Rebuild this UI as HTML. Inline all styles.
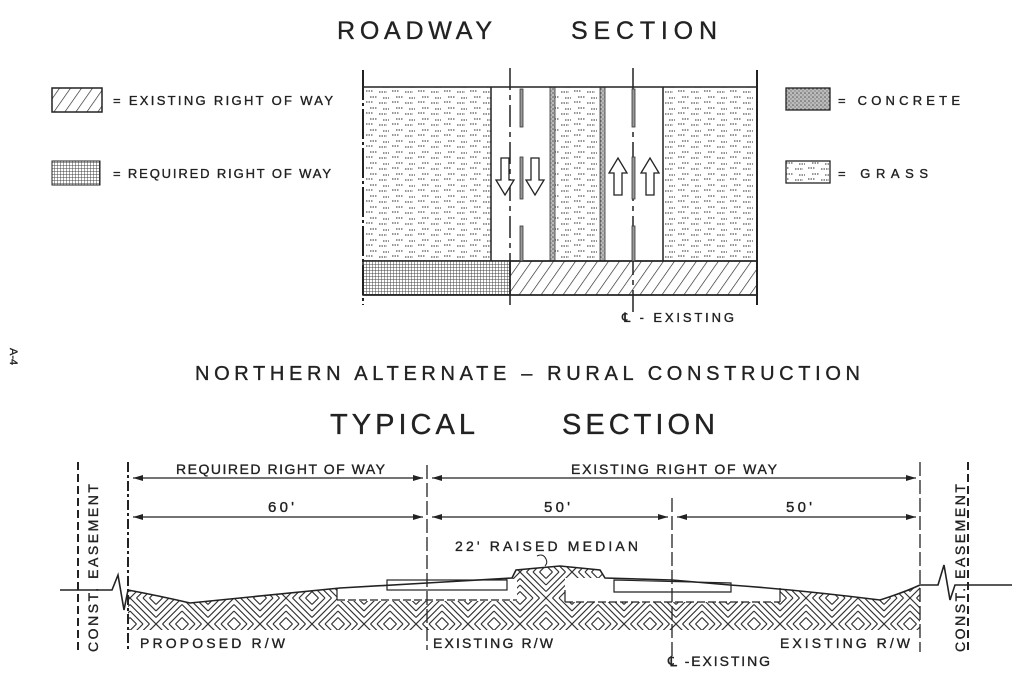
<!DOCTYPE html>
<html><head><meta charset="utf-8"><style>
html,body{margin:0;padding:0;background:#fff;}
svg{display:block;}
text{font-family:"Liberation Sans",sans-serif;fill:#222;stroke:#222;stroke-width:0.35;}
</style></head><body>
<svg width="1024" height="684" viewBox="0 0 1024 684" xmlns="http://www.w3.org/2000/svg">
<defs>
<pattern id="diag" width="9" height="9" patternUnits="userSpaceOnUse" patternTransform="rotate(35)">
<line x1="0" y1="0" x2="0" y2="9" stroke="#222" stroke-width="1.3"/></pattern>
<pattern id="grid" width="3" height="3" patternUnits="userSpaceOnUse">
<rect width="3" height="3" fill="#fff"/><path d="M0 0H3M0 0V3" stroke="#444" stroke-width="1"/></pattern>
<pattern id="dots" width="4" height="4" patternUnits="userSpaceOnUse">
<rect width="4" height="4" fill="#bbb"/><circle cx="1" cy="1" r="0.8" fill="#555"/><circle cx="3" cy="3" r="0.7" fill="#777"/></pattern>
<pattern id="grass" width="26" height="11" patternUnits="userSpaceOnUse">
<path d="M2 3h7M15 4h8M6 9h7M19 10h6" stroke="#555" stroke-width="1.2" stroke-dasharray="1.5 1"/></pattern>
<g id="bs"><path d="M0 0L26 26M0 6.5L19.5 26M0 13L13 26M0 19.5L6.5 26M6.5 0L26 19.5M13 0L26 13M19.5 0L26 6.5" stroke="#333" stroke-width="1.2" fill="none"/></g>
<pattern id="herr" width="52" height="52" patternUnits="userSpaceOnUse">
<use href="#bs"/>
<use href="#bs" transform="translate(52 0) scale(-1 1)"/>
<use href="#bs" transform="translate(0 52) scale(1 -1)"/>
<use href="#bs" transform="translate(26 26)"/>
</pattern>
</defs>

<!-- Titles -->
<text x="337" y="39" font-size="25" textLength="155" lengthAdjust="spacing">ROADWAY</text>
<text x="571" y="39" font-size="25" textLength="146" lengthAdjust="spacing">SECTION</text>
<text x="195" y="380" font-size="20" textLength="665" lengthAdjust="spacing">NORTHERN  ALTERNATE  –  RURAL  CONSTRUCTION</text>
<text x="330" y="434" font-size="29" textLength="145" lengthAdjust="spacing">TYPICAL</text>
<text x="562" y="434" font-size="29" textLength="153" lengthAdjust="spacing">SECTION</text>
<text x="10" y="348" font-size="11" transform="rotate(90 10 348)">A-4</text>

<!-- Legends -->
<rect x="52" y="88" width="50" height="24" fill="url(#diag)" stroke="#222" stroke-width="1.5"/>
<text x="113" y="105" font-size="13" textLength="220" lengthAdjust="spacing">= EXISTING RIGHT OF WAY</text>
<rect x="52" y="161" width="48" height="24" fill="url(#grid)" stroke="#222" stroke-width="1"/>
<text x="113" y="178" font-size="13" textLength="218" lengthAdjust="spacing">= REQUIRED RIGHT OF WAY</text>
<rect x="786" y="88" width="44" height="22" fill="url(#dots)" stroke="#222" stroke-width="1.3"/>
<text x="838" y="105" font-size="13" textLength="122" lengthAdjust="spacing">= CONCRETE</text>
<rect x="786" y="161" width="44" height="22" fill="url(#grass)" stroke="#222" stroke-width="1.3"/>
<text x="838" y="178" font-size="13" textLength="90" lengthAdjust="spacing">= GRASS</text>

<!-- Plan -->
<g stroke="#222" stroke-width="1.5">
<rect x="363" y="87" width="128" height="174" fill="url(#grass)" stroke="none"/>
<rect x="555" y="87" width="45" height="174" fill="url(#grass)" stroke="none"/>
<rect x="663" y="87" width="94" height="174" fill="url(#grass)" stroke="none"/>
<rect x="550" y="87" width="5" height="174" fill="url(#dots)" stroke="#333" stroke-width="0.8"/>
<rect x="600" y="87" width="5" height="174" fill="url(#dots)" stroke="#333" stroke-width="0.8"/>
<line x1="491" y1="87" x2="491" y2="261"/>
<line x1="663" y1="87" x2="663" y2="261"/>
<line x1="363" y1="87" x2="757" y2="87"/>
<line x1="363" y1="261" x2="757" y2="261"/>
<line x1="363" y1="295" x2="757" y2="295"/>
<rect x="363" y="261" width="147" height="34" fill="url(#grid)"/>
<rect x="510" y="261" width="247" height="34" fill="url(#diag)"/>
<line x1="363" y1="70" x2="363" y2="305" stroke-dasharray="30 3 3 3" stroke-width="2"/>
<line x1="757" y1="70" x2="757" y2="305" stroke-width="2"/>
<line x1="510" y1="68" x2="510" y2="305" stroke-dasharray="22 5 5 5"/>
<line x1="633" y1="68" x2="633" y2="312" stroke-dasharray="22 5 5 5"/>
</g>
<g fill="#999" stroke="#333" stroke-width="0.8">
<rect x="520" y="89" width="3" height="38"/><rect x="520" y="157" width="3" height="42"/><rect x="520" y="226" width="3" height="35"/>
<rect x="632" y="89" width="3" height="38"/><rect x="632" y="157" width="3" height="42"/><rect x="632" y="226" width="3" height="35"/>
</g>
<g fill="#fff" stroke="#222" stroke-width="1.3">
<path d="M501 158h8v22h5l-9 15-9-15h5z"/>
<path d="M531 158h8v22h5l-9 15-9-15h5z"/>
<path d="M614 195h8v-22h5l-9-15-9 15h5z"/>
<path d="M646 195h8v-22h5l-9-15-9 15h5z"/>
</g>
<text x="622" y="322" font-size="13" textLength="112" lengthAdjust="spacing">℄ - EXISTING</text>

<!-- Typical section -->
<path d="M128 590 Q160 596 190 603 Q260 596 340 588 L427 583 L512 578 L516 570 L560 566 L600 570 L605 578 L672 580 L730 585 Q800 590 880 600 Q905 592 920 585 L920 630 L128 630 Z" fill="url(#herr)" stroke="none"/>
<path d="M337 588 L513 579 L517 579 L517 601 L337 601 Z" fill="#fff"/>
<path d="M565 578 L605 578 L672 580 L730 585 L780 588 L780 602 L565 602 Z" fill="#fff"/>
<g fill="none" stroke="#222" stroke-width="1.2">
<path d="M337 588 V600"/><path d="M337 600 H517" stroke-dasharray="8 3"/>
<path d="M565 602 H780" stroke-dasharray="8 3"/><path d="M780 588 V602"/><path d="M565 590 V602"/>
<rect x="387" y="580" width="120" height="10" fill="#fff"/>
<path d="M614 580 L731 583 L731 592 L614 592 Z" fill="#fff"/>
</g>
<path d="M60 590 H112 L118 575 L124 610 L128 590 Q160 596 190 603 Q260 596 340 588 L427 583 L512 578 L516 570 L560 566 L600 570 L605 578 L672 580 L730 585 Q800 590 880 600 Q905 592 920 585 H938 L944 565 L950 600 L955 585 H1012" fill="none" stroke="#222" stroke-width="1.6"/>
<g stroke="#222" stroke-width="1.3">
<line x1="128" y1="462" x2="128" y2="652" stroke-dasharray="10 3 3 3" stroke-width="2"/>
<line x1="427" y1="465" x2="427" y2="650" stroke-dasharray="14 4"/>
<line x1="672" y1="498" x2="672" y2="660" stroke-dasharray="14 4"/>
<line x1="920" y1="462" x2="920" y2="652" stroke-dasharray="14 4"/>
<line x1="78" y1="462" x2="78" y2="652" stroke-dasharray="8 4" stroke-width="2"/>
<line x1="968" y1="462" x2="968" y2="652" stroke-dasharray="8 4" stroke-width="2"/>
<line x1="133" y1="478" x2="423" y2="478"/><line x1="432" y1="478" x2="916" y2="478"/>
<line x1="133" y1="517" x2="423" y2="517"/><line x1="432" y1="517" x2="668" y2="517"/><line x1="677" y1="517" x2="916" y2="517"/>
</g>
<g fill="#222">
<path d="M133 478l10-3v6z"/><path d="M423 478l-10-3v6z"/><path d="M432 478l10-3v6z"/><path d="M916 478l-10-3v6z"/>
<path d="M133 517l10-3v6z"/><path d="M423 517l-10-3v6z"/><path d="M432 517l10-3v6z"/><path d="M668 517l-10-3v6z"/><path d="M677 517l10-3v6z"/><path d="M916 517l-10-3v6z"/>
</g>
<text x="176" y="474" font-size="14" textLength="209" lengthAdjust="spacing">REQUIRED RIGHT OF WAY</text>
<text x="571" y="474" font-size="14" textLength="206" lengthAdjust="spacing">EXISTING RIGHT OF WAY</text>
<text x="268" y="512" font-size="15" textLength="26" lengthAdjust="spacing">60'</text>
<text x="544" y="512" font-size="15" textLength="26" lengthAdjust="spacing">50'</text>
<text x="786" y="512" font-size="15" textLength="26" lengthAdjust="spacing">50'</text>
<text x="455" y="551" font-size="14" textLength="183" lengthAdjust="spacing">22' RAISED  MEDIAN</text>
<path d="M537 556 q6 -3 9 3 q2 4 -1 7" fill="none" stroke="#222" stroke-width="1"/>
<text x="140" y="648" font-size="14" textLength="145" lengthAdjust="spacing">PROPOSED  R/W</text>
<text x="433" y="648" font-size="14" textLength="120" lengthAdjust="spacing">EXISTING  R/W</text>
<text x="780" y="648" font-size="14" textLength="130" lengthAdjust="spacing">EXISTING  R/W</text>
<text x="668" y="666" font-size="14" textLength="102" lengthAdjust="spacing">℄ -EXISTING</text>
<text x="98" y="652" font-size="14" textLength="168" lengthAdjust="spacing" transform="rotate(-90 98 652)">CONST.  EASEMENT</text>
<text x="965" y="652" font-size="14" textLength="168" lengthAdjust="spacing" transform="rotate(-90 965 652)">CONST.  EASEMENT</text>
</svg>
</body></html>
